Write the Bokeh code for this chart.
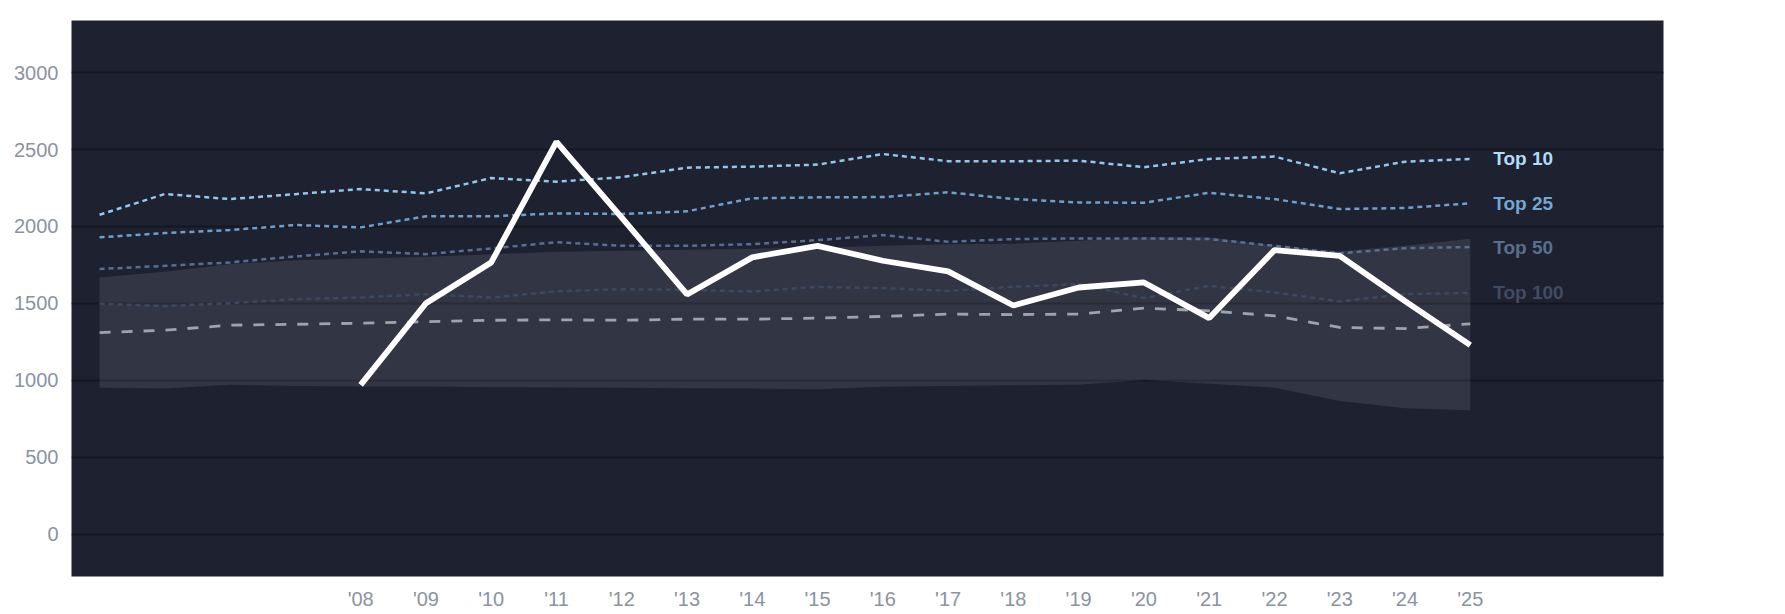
from bokeh.plotting import figure
from bokeh.models import ColumnDataSource, FixedTicker, Range1d
from bokeh.core.properties import value
from bokeh.embed import file_html
from bokeh.resources import INLINE

years = list(range(2004, 2026))

top10 = [2076, 2211, 2178, 2210, 2243, 2215, 2315, 2291, 2320, 2382, 2389, 2402,
         2471, 2424, 2424, 2428, 2385, 2439, 2454, 2346, 2421, 2439]
top25 = [1929, 1957, 1977, 2009, 1994, 2066, 2066, 2085, 2081, 2098, 2183, 2189,
         2191, 2222, 2178, 2156, 2154, 2219, 2178, 2113, 2120, 2150]
top50 = [1723, 1744, 1766, 1805, 1838, 1820, 1857, 1898, 1874, 1874, 1885, 1911,
         1944, 1900, 1918, 1922, 1922, 1918, 1874, 1825, 1859, 1866]
top100 = [1497, 1482, 1501, 1527, 1538, 1560, 1538, 1578, 1592, 1588, 1577, 1607,
          1599, 1581, 1608, 1625, 1534, 1614, 1571, 1512, 1560, 1568]
median = [1310, 1325, 1358, 1364, 1371, 1380, 1390, 1393, 1390, 1397, 1397, 1404,
          1415, 1430, 1427, 1430, 1469, 1451, 1419, 1343, 1336, 1367]
band_high = [1668, 1705, 1755, 1781, 1792, 1803, 1820, 1835, 1842, 1849, 1855, 1862,
             1874, 1885, 1888, 1907, 1929, 1929, 1874, 1838, 1874, 1920]
band_low = [952, 946, 970, 963, 959, 959, 955, 953, 951, 948, 946, 941,
            957, 963, 967, 970, 1002, 978, 952, 865, 818, 805]

main_years = list(range(2008, 2026))
main_vals = [970, 1501, 1766, 2550, 2057, 1558, 1799, 1874, 1777, 1708, 1486, 1603,
             1636, 1404, 1846, 1809, 1515, 1228]

tick_years = list(range(2008, 2026))
tick_labels = ["'%02d" % (y % 100) for y in tick_years]
y_ticks = [0, 500, 1000, 1500, 2000, 2500, 3000]

series_names = ["Top 10", "Top 25", "Top 50", "Top 100"]
series_colors = ["#92c8f0", "#6ca0ce", "#586f93", "#3d4960"]
label_colors = ["#b2dbf8", "#74a7d3", "#5a6e8e", "#414c63"]

BG = "#1d2130"
FONT = "Liberation Sans"

p = figure(frame_width=1592, frame_height=556, output_backend="svg",
           toolbar_location=None, min_border_left=71, min_border_top=20,
           min_border_right=100, min_border_bottom=10,
           x_range=Range1d(2003.57, 2027.96), y_range=Range1d(-276, 3339),
           background_fill_color=BG, border_fill_color="white")
p.outline_line_color = None

p.xgrid.grid_line_color = None
p.ygrid.grid_line_color = "#141720"
p.ygrid.grid_line_width = 2
p.ygrid.ticker = FixedTicker(ticks=y_ticks)

for ax in (p.xaxis[0], p.yaxis[0]):
    ax.axis_line_color = None
    ax.major_tick_line_color = None
    ax.minor_tick_line_color = None
    ax.major_tick_out = 0
    ax.major_tick_in = 0
    ax.minor_tick_out = 0
    ax.minor_tick_in = 0
    ax.major_label_text_color = "#8a93a3"
    ax.major_label_text_font = FONT
    ax.major_label_text_font_size = "20px"

p.xaxis.ticker = FixedTicker(ticks=tick_years)
p.xaxis.major_label_overrides = {y: l for y, l in zip(tick_years, tick_labels)}
p.xaxis.major_label_standoff = 11
p.yaxis.ticker = FixedTicker(ticks=y_ticks)
p.yaxis.major_label_standoff = 13

src = ColumnDataSource(dict(x=years, lo=band_low, hi=band_high, t10=top10, t25=top25,
                            t50=top50, t100=top100, med=median))

p.varea(x="x", y1="lo", y2="hi", source=src, fill_color="white", fill_alpha=0.095)

p.line(x="x", y="t100", source=src, line_color=series_colors[3], line_width=2.5, line_dash="5 4")
p.line(x="x", y="t50", source=src, line_color=series_colors[2], line_width=2.5, line_dash="5 4")
p.line(x="x", y="t25", source=src, line_color=series_colors[1], line_width=2.5, line_dash="5 4")
p.line(x="x", y="t10", source=src, line_color=series_colors[0], line_width=2.5, line_dash="5 4")
p.line(x="x", y="med", source=src, line_color="#9ea3ad", line_width=2.8, line_dash="11 11")

p.line(x=main_years, y=main_vals, line_color="white", line_width=5.8)

ends = [top10[-1], top25[-1], top50[-1], top100[-1]]
lsrc = ColumnDataSource(dict(x=[years[-1]] * 4, y=ends, text=series_names, c=label_colors))
p.text(x="x", y="y", text="text", source=lsrc, x_offset=23, text_baseline="middle",
       text_align="left", text_color="c", text_font=value(FONT), text_font_style="bold",
       text_font_size="19px")

open("out.html", "w").write(file_html(p, INLINE))
